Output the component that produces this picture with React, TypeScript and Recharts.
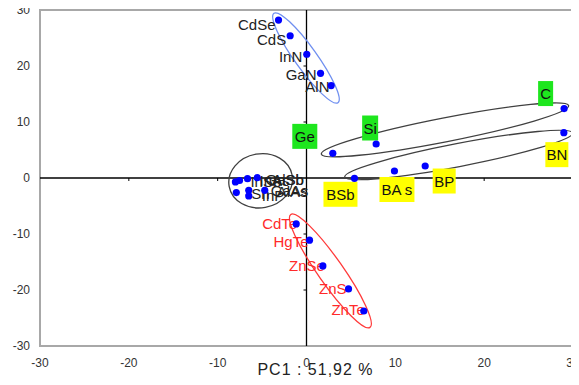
import React from 'react';
import {
  ScatterChart, Scatter, XAxis, YAxis, ReferenceLine, ReferenceArea, ReferenceDot,
} from 'recharts';

// ---------- data ----------
const X_TICKS = [-30, -20, -10, 0, 10, 20, 30];
const Y_TICKS = [-30, -20, -10, 0, 10, 20, 30];
const X_LABEL = 'PC1 : 51,92 %';

// upper group (black text)
const TOP_NAMES = ['CdSe', 'CdS', 'InN', 'GaN', 'AlN'];
const TOP_X = [-3.15, -1.84, 0.03, 1.58, 2.78];
const TOP_Y = [28.2, 25.4, 22.1, 18.7, 16.5];

// green boxes
const GREEN_NAMES = ['C', 'Si', 'Ge'];
const GREEN_X = [29.0, 7.84, 2.96];
const GREEN_Y = [12.4, 6.07, 4.4];

// yellow boxes
const YELLOW_NAMES = ['BN', 'BP', 'BA s', 'BSb'];
const YELLOW_X = [28.97, 13.36, 9.9, 5.4];
const YELLOW_Y = [8.1, 2.14, 1.25, -0.05];

// cluster around origin
const CLUSTER_NAMES = ['InSb', 'InAs', 'GaSb', 'AlSb', 'Sn', 'GaAs', 'InP', 'AlAs'];
const CLUSTER_X = [-8.0, -7.54, -6.64, -5.55, -7.9, -6.5, -6.5, -4.7];
const CLUSTER_Y = [-0.7, -0.45, -0.12, 0.05, -2.6, -2.2, -3.2, -2.2];

// lower group (red text)
const RED_NAMES = ['CdTe', 'HgTe', 'ZnSe', 'ZnS', 'ZnTe'];
const RED_X = [-1.16, 0.34, 1.84, 4.73, 6.45];
const RED_Y = [-8.2, -11.1, -15.7, -19.8, -23.75];

// group ellipses: centre in data units
const ELLIPSE_X = [-0.06, 15.59, 17.13, -5.16, 2.69];
const ELLIPSE_Y = [21.43, 8.6, 4.11, -0.5, -16.59];

// ---------- styles / layout ----------
const FONT = '"Liberation Sans", Arial, sans-serif';
const DOT = '#0000ff';
const ELLIPSE_STYLE = [
  { rx: 55, ry: 11, angle: 54.4, stroke: '#6f8ff0' },
  { rx: 126, ry: 12, angle: -11.06, stroke: '#404040' },
  { rx: 116, ry: 11.5, angle: -10.9, stroke: '#404040' },
  { rx: 32, ry: 27, angle: -10, stroke: '#404040' },
  { rx: 69, ry: 12.5, angle: 54.96, stroke: '#ff3a3a' },
];
// label offsets (px) relative to the dot
const LABEL_OFFSET: Record<string, [number, number]> = {
  CdSe: [-3, 4], CdS: [-4, 3.3], InN: [-4.5, 2.5], GaN: [-4, 1.5], AlN: [-1.7, 1],
  CdTe: [1, 0], HgTe: [-1, 1.5], ZnSe: [2, -0.5], ZnS: [-2, 0], ZnTe: [1, -1.5],
  C: [-18.5, -15], Si: [-6, -16], Ge: [-28, -17],
  BN: [-7, 22], BP: [19, 15], 'BA s': [2.5, 18.5], BSb: [-14, 16],
  InSb: [15, 0], InAs: [20, 0], GaSb: [18, 1], AlSb: [15, 2],
  Sn: [15, 1], GaAs: [22, 0], InP: [13, 0], AlAs: [12, 1],
};
const BOX_W: Record<string, number> = {
  C: 15, Si: 16, Ge: 25, BN: 23, BP: 23, 'BA s': 35, BSb: 34,
};

const zip = (names: string[], xs: number[], ys: number[]) =>
  names.map((name, i) => ({ name, x: xs[i], y: ys[i] }));

const topData = zip(TOP_NAMES, TOP_X, TOP_Y);
const greenData = zip(GREEN_NAMES, GREEN_X, GREEN_Y);
const yellowData = zip(YELLOW_NAMES, YELLOW_X, YELLOW_Y);
const clusterData = zip(CLUSTER_NAMES, CLUSTER_X, CLUSTER_Y);
const redData = zip(RED_NAMES, RED_X, RED_Y);

const textShape = (color: string, anchor: 'start' | 'end') => (props: any) => {
  const { cx, cy, payload } = props;
  const [dx, dy] = LABEL_OFFSET[payload.name] || [0, 0];
  return (
    <g>
      <text x={cx + dx} y={cy + dy} textAnchor={anchor} dominantBaseline="central"
        fontSize={15} fontFamily={FONT} fill={color}>{payload.name}</text>
      <circle cx={cx} cy={cy} r={3.6} fill={DOT} />
    </g>
  );
};

const boxShape = (bg: string) => (props: any) => {
  const { cx, cy, payload } = props;
  const [dx, dy] = LABEL_OFFSET[payload.name] || [0, 0];
  const w = BOX_W[payload.name] || 24;
  const h = 25;
  const bx = cx + dx;
  const by = cy + dy;
  return (
    <g>
      <rect x={bx - w / 2} y={by - h / 2} width={w} height={h} fill={bg} />
      <text x={bx} y={by} textAnchor="middle" dominantBaseline="central"
        fontSize={15} fontFamily={FONT} fill="#111">{payload.name}</text>
      <circle cx={cx} cy={cy} r={3.6} fill={DOT} />
    </g>
  );
};

const ellipseShape = (i: number) => (props: any) => {
  const { cx, cy } = props;
  const s = ELLIPSE_STYLE[i];
  return (
    <ellipse cx={cx} cy={cy} rx={s.rx} ry={s.ry} fill="none" stroke={s.stroke}
      strokeWidth={1.3} transform={`rotate(${s.angle} ${cx} ${cy})`} />
  );
};

const hTick = (props: any) => (
  <line x1={props.cx} x2={props.cx} y1={props.cy} y2={props.cy + 3} stroke="#000" strokeWidth={1} />
);
const vTick = (props: any) => (
  <line x1={props.cx - 3} x2={props.cx} y1={props.cy} y2={props.cy} stroke="#000" strokeWidth={1} />
);

export default function App() {
  return (
    <div style={{ margin: -8, background: '#fff', width: 579, height: 385 }}>
      <ScatterChart width={579} height={385} margin={{ top: 10, right: 6, left: 0, bottom: 0 }}>
        <XAxis type="number" dataKey="x" domain={[-30, 30]} ticks={X_TICKS} allowDataOverflow
          axisLine={false} tickLine={false} tickMargin={6} height={39}
          tick={{ fontSize: 12, fill: '#333', fontFamily: FONT }}
          label={{ value: X_LABEL, position: 'insideBottom', offset: 10, dx: 9,
            style: { fontSize: 16, fill: '#222', fontFamily: FONT, letterSpacing: 1 } }} />
        <YAxis type="number" dataKey="y" domain={[-30, 30]} ticks={Y_TICKS} allowDataOverflow
          axisLine={false} tickLine={false} tickMargin={4} width={40}
          tick={{ fontSize: 12, fill: '#333', fontFamily: FONT }} />
        <ReferenceArea x1={-30} x2={30} y1={-30} y2={30} fill="none" fillOpacity={0}
          stroke="#a8a8a8" strokeWidth={2} />
        <ReferenceLine x={0} stroke="#000" strokeWidth={1.3} />
        <ReferenceLine y={0} stroke="#000" strokeWidth={1.3} />
        {X_TICKS.filter((t) => t !== 0 && Math.abs(t) !== 30).map((t) => (
          <ReferenceDot key={`hx${t}`} x={t} y={0} r={0} shape={hTick} />
        ))}
        {Y_TICKS.filter((t) => t !== 0 && Math.abs(t) !== 30).map((t) => (
          <ReferenceDot key={`vy${t}`} x={0} y={t} r={0} shape={vTick} />
        ))}
        {ELLIPSE_X.map((ex, i) => (
          <ReferenceDot key={`e${i}`} x={ex} y={ELLIPSE_Y[i]} r={0} shape={ellipseShape(i)} />
        ))}
        <Scatter data={clusterData} isAnimationActive={false} shape={textShape('#222', 'start')} />
        <Scatter data={topData} isAnimationActive={false} shape={textShape('#222', 'end')} />
        <Scatter data={redData} isAnimationActive={false} shape={textShape('#ff2a2a', 'end')} />
        <Scatter data={greenData} isAnimationActive={false} shape={boxShape('#1ee61e')} />
        <Scatter data={yellowData} isAnimationActive={false} shape={boxShape('#ffff00')} />
      </ScatterChart>
    </div>
  );
}
